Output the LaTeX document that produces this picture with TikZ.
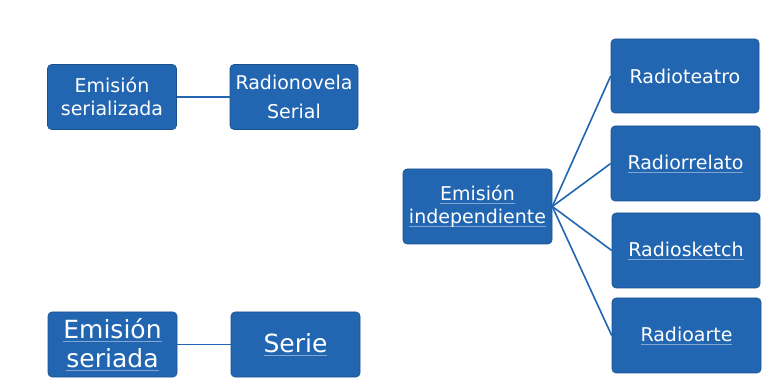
\documentclass[tikz,border=0pt]{standalone}
\usepackage{fontspec}
\setmainfont{DejaVu Sans}
\definecolor{boxblue}{RGB}{34,102,178}
\definecolor{ulcol}{RGB}{130,165,210}
\newcommand{\ulx}[1]{\setbox0\hbox{#1}\rlap{\color{ulcol}\rule[-3pt]{\wd0}{0.6pt}}\box0}
\tikzset{
  bx/.style={draw=boxblue!80!black, line width=0.6pt, fill=boxblue, rounded corners=4pt, text=white, align=center, inner sep=0pt},
  small/.style={font=\fontsize{19}{23}\selectfont},
  big/.style={font=\fontsize{25}{29}\selectfont},
  conn/.style={draw=boxblue, line width=1.6pt}
}
\begin{document}
\begin{tikzpicture}[x=1pt,y=-1pt]
\useasboundingbox (0,0) rectangle (774,387);
\fill[white] (0,0) rectangle (774,387);
\node[bx,small,minimum width=129pt,minimum height=65pt] (es) at (112,97) {Emisión\\serializada};
\node[bx,small,minimum width=128pt,minimum height=65pt] (rn) at (294,97) {Radionovela\\[6pt]Serial};
\node[bx,big,minimum width=129pt,minimum height=65pt] (esd) at (112.5,344.5) {\ulx{Emisión}\\\ulx{seriada}};
\node[bx,big,minimum width=129pt,minimum height=65pt] (se) at (295.5,344.5) {\ulx{Serie}};
\node[bx,small,minimum width=149pt,minimum height=75pt] (ei) at (477.5,206.5) {\ulx{Emisión}\\\ulx{independiente}};
\node[bx,small,minimum width=148pt,minimum height=74pt] (rt) at (685,76) {Radioteatro};
\node[bx,small,minimum width=149pt,minimum height=75pt] (rr) at (685.5,163.5) {\ulx{Radiorrelato}};
\node[bx,small,minimum width=148pt,minimum height=75pt] (rs) at (686,250.5) {\ulx{Radiosketch}};
\node[bx,small,minimum width=149pt,minimum height=75pt] (ra) at (686.5,335.5) {\ulx{Radioarte}};
\draw[conn] (es.east) -- (rn.west);
\draw[conn] (esd.east) -- (se.west);
\foreach \t in {rt,rr,rs,ra} \draw[conn] (ei.east) -- (\t.west);
\end{tikzpicture}
\end{document}
